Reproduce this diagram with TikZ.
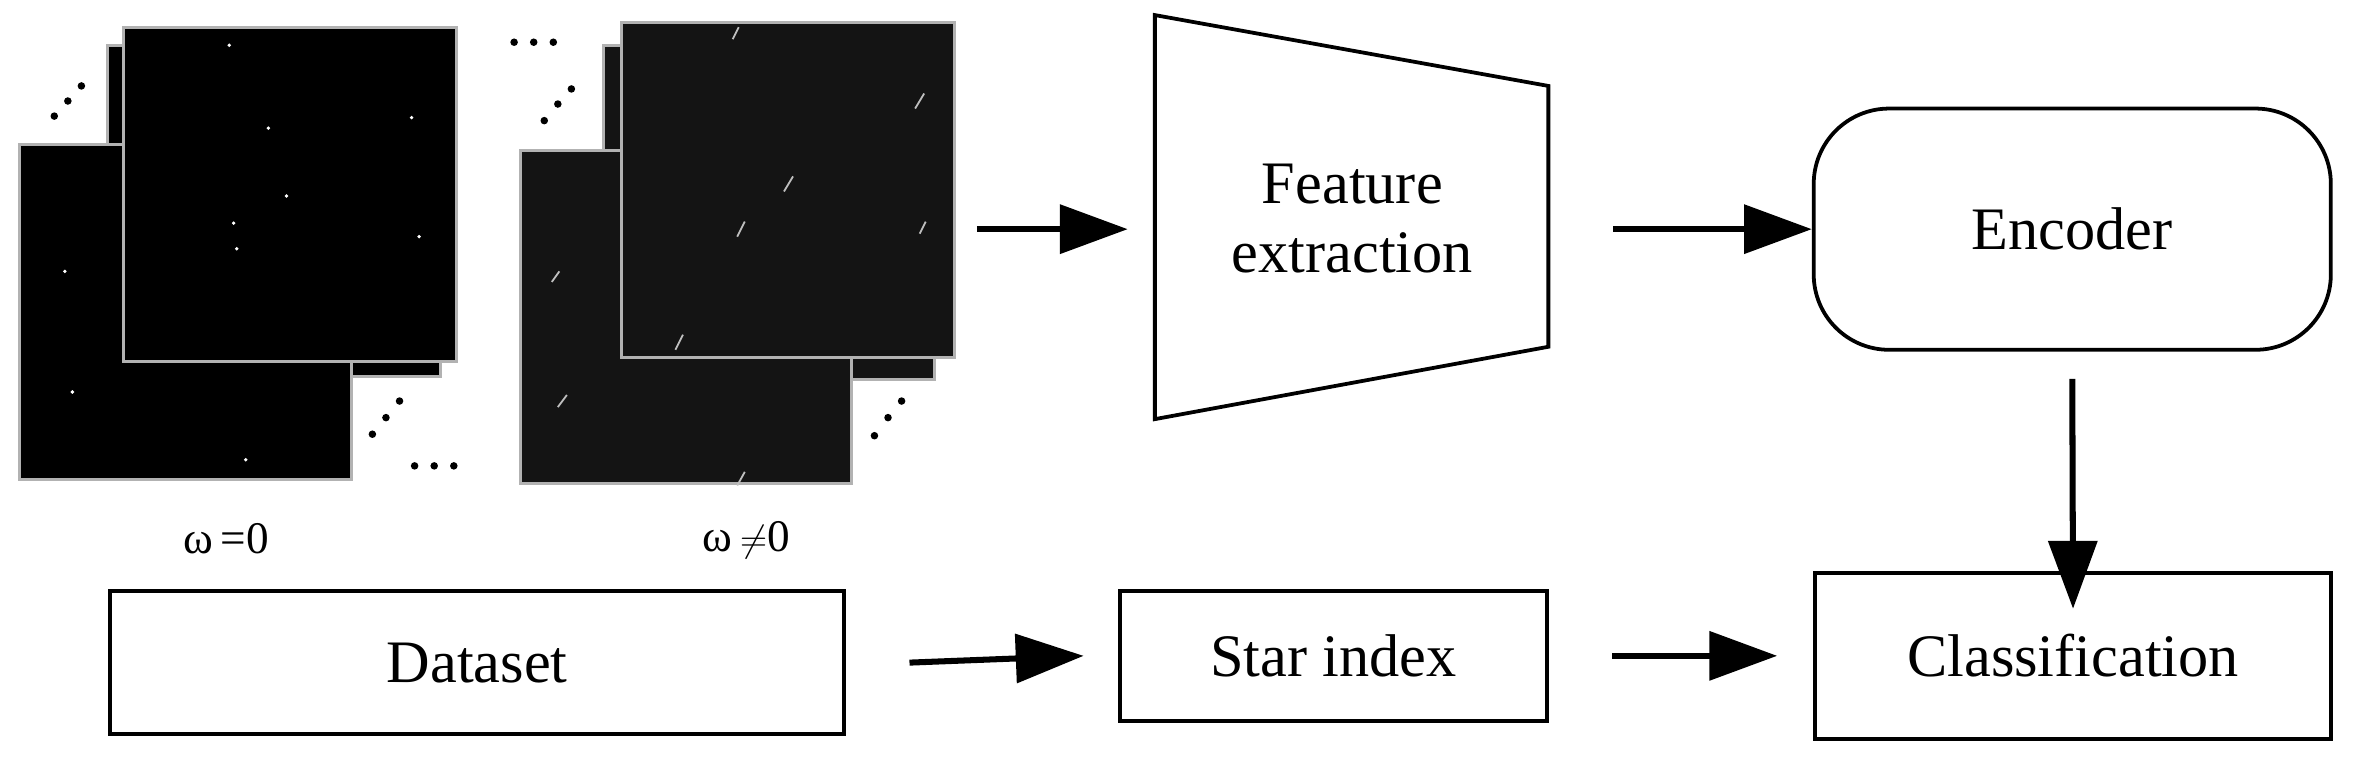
\documentclass[tikz,border=0pt]{standalone}
\usepackage{fontspec}
\setmainfont{Liberation Serif}
\usetikzlibrary{arrows.meta}
\begin{document}
\begin{tikzpicture}[x=1pt,y=-1pt,
  frameA/.style={fill=black,draw=gray!60,line width=2pt},
  frameB/.style={fill=black!92,draw=gray!60,line width=2pt},
  box/.style={draw,line width=2.5pt},
  arr/.style={line width=4pt,-{Triangle[length=45pt,width=32pt]}},
  txt/.style={font=\fontsize{40}{46}\selectfont,align=center},
  lab/.style={font=\fontsize{30}{34}\selectfont},
  dot/.style={fill=black,circle,inner sep=0pt,minimum size=5pt},
  star/.style={fill=white,circle,inner sep=0pt,minimum size=2.5pt},
  streak/.style={draw=gray!50,line width=1.2pt}]
\useasboundingbox (0,0) rectangle (1568,512);
% stack 1
\draw[frameA] (82,18) rectangle (303,240);
\draw[frameA] (71,30) rectangle (292,250);
\draw[frameA] (13,96) rectangle (233,318);
\draw[frameA,draw=none] (82,18) rectangle (303,240);
\draw[gray!60,line width=2pt] (82,18) rectangle (303,240);
\foreach \p in {(152,30),(273,78),(190,130),(155,148),(178,85),(157,165),(278,157),(43,180),(48,260),(163,305)}
  \node[star] at \p {};
% stack 2
\draw[frameB] (412,15) rectangle (633,237);
\draw[frameB] (400,30) rectangle (620,252);
\draw[frameB] (345,100) rectangle (565,321);
\draw[frameB,draw=none] (412,15) rectangle (633,237);
\draw[gray!60,line width=2pt] (412,15) rectangle (633,237);
\foreach \a/\b in {{(486,26)}/{(490,18)},{(520,127)}/{(526,117)},{(607,72)}/{(613,62)},{(489,157)}/{(494,147)},{(610,155)}/{(614,147)},{(366,187)}/{(371,180)},{(370,270)}/{(376,262)},{(489,322)}/{(494,313)},{(448,232)}/{(453,222)}}
  \draw[streak] \a -- \b;
% dots
\foreach \x/\y in {36/77,45/67,54/57,247/288,256/277,265/266,361/80,370/69,379/59,580/289,589/277,598/266}
  \node[dot] at (\x,\y) {};
\foreach \x in {341,354,367,275,288,301}
  \node[dot] at (\x,{\x>320 ? 28 : 309}) {};
\node[lab] (l1) at (150,357) {ω\,=0};
\node[lab] (l2) at (495,358) {ω\,$\neq$0};
\coordinate (imgout) at (648,152);
% feature extraction
\draw[box] (766,10) -- (1027,57) -- (1027,230) -- (766,278) -- cycle;
\node[txt] (fe) at (897,145) {Feature\\extraction};
\coordinate (fein) at (748,152);
\coordinate (feout) at (1070,152);
\node[box,txt,rounded corners=50pt,minimum width=343pt,minimum height=160pt] (enc) at (1374.5,152) {Encoder};
\node[box,txt,minimum width=342pt,minimum height=110pt] (cls) at (1375,435) {Classification};
\node[box,txt,minimum width=283pt,minimum height=86pt] (star) at (884.5,435) {Star index};
\node[box,txt,minimum width=487pt,minimum height=95pt] (ds) at (316.5,439.5) {Dataset};
\draw[arr] (imgout) -- (fein);
\draw[arr] (feout) -- (enc.west);
\draw[arr] ([yshift=-18pt]enc.south) -- ([yshift=-25pt]cls.north);
\draw[arr] ([xshift=42pt]ds.east) -- ([xshift=-23pt]star.west);
\draw[arr] ([xshift=42pt]star.east) -- ([xshift=-24pt]cls.west);
\end{tikzpicture}
\end{document}
